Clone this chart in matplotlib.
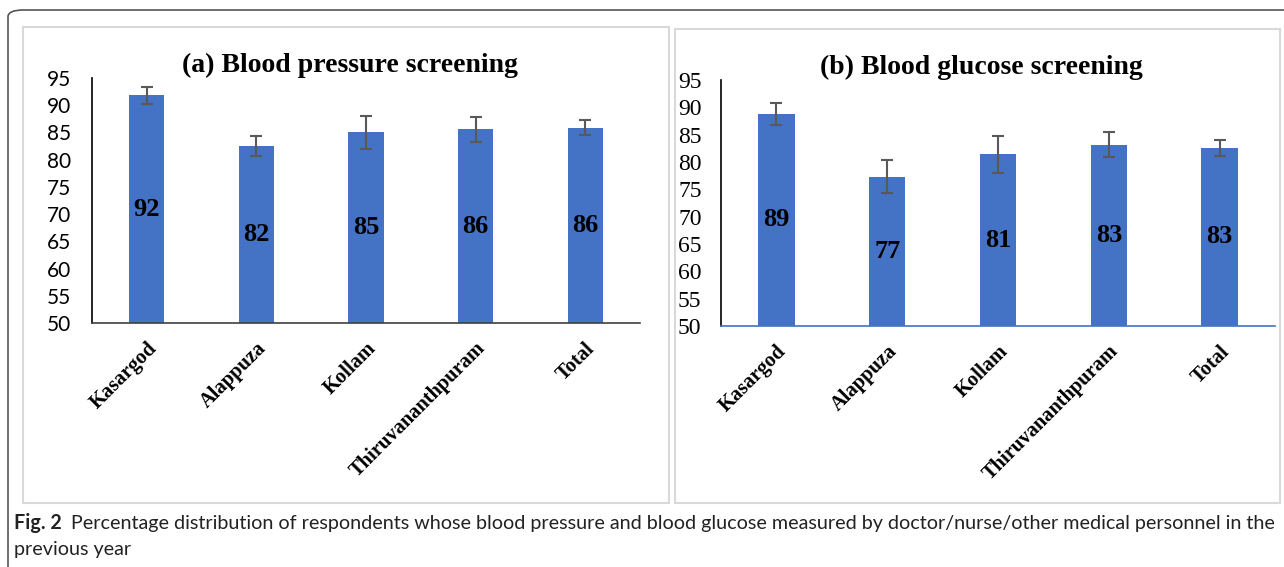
import matplotlib.pyplot as plt
from matplotlib.patches import Rectangle, FancyBboxPatch

districts = ['Kasargod', 'Alappuza', 'Kollam', 'Thiruvananthpuram', 'Total']
bp_values = [91.8, 82.5, 85.0, 85.6, 85.9]
bp_err = [1.6, 1.9, 3.0, 2.3, 1.4]
glu_values = [88.8, 77.3, 81.4, 83.2, 82.6]
glu_err = [2.0, 3.0, 3.4, 2.2, 1.5]
yticks = [50, 55, 60, 65, 70, 75, 80, 85, 90, 95]

bar_color = '#4472C4'
err_color = '#595959'
serif = 'Liberation Serif'

fig = plt.figure(figsize=(12.84, 5.67), dpi=100)
W, H = 1284, 567

# outer frame and panel boxes
fig.patches.append(FancyBboxPatch((8 / W, -0.05), 1.2, (567 - 10) / H + 0.05,
                                  boxstyle='round,pad=0,rounding_size=0.012',
                                  transform=fig.transFigure, fill=False,
                                  edgecolor='#555555', linewidth=1.2))
fig.patches.append(Rectangle((23 / W, 1 - 503 / H), (669 - 23) / W, (503 - 27) / H,
                             transform=fig.transFigure, fill=False,
                             edgecolor='#d9d9d9', linewidth=1.5))
fig.patches.append(Rectangle((675 / W, 1 - 503 / H), (1280 - 675) / W, (503 - 29) / H,
                             transform=fig.transFigure, fill=False,
                             edgecolor='#d9d9d9', linewidth=1.5))


def panel(rect, values, errs, title, tick_font, tick_size, bottom_color, width):
    ax = fig.add_axes(rect)
    x = range(len(values))
    ax.bar(x, [v - 50 for v in values], bottom=50, width=width, color=bar_color,
           yerr=errs, ecolor=err_color, capsize=4.5,
           error_kw={'elinewidth': 1.5, 'capthick': 1.5}, zorder=2)
    for i, v in enumerate(values):
        ax.text(i, (50 + v) / 2, '{:.0f}'.format(v), ha='center', va='center',
                fontsize=19, fontweight='bold', family=serif)
    ax.set_xlim(-0.5, 4.5)
    ax.set_ylim(50, 95)
    ax.set_yticks(yticks)
    ax.set_yticklabels([str(t) for t in yticks], family=tick_font, fontsize=tick_size)
    ax.set_xticks(list(x))
    ax.set_xticklabels(districts, rotation=45, ha='right', rotation_mode='anchor',
                       family=serif, fontweight='bold', fontsize=14.8)
    ax.tick_params(axis='x', length=0, pad=11)
    ax.tick_params(axis='y', length=0)
    for s in ['top', 'right']:
        ax.spines[s].set_visible(False)
    ax.spines['left'].set_color('black')
    ax.spines['left'].set_linewidth(1.2)
    ax.spines['bottom'].set_color(bottom_color)
    ax.spines['bottom'].set_linewidth(1.2)
    ax.set_title(title, family=serif, fontweight='bold', fontsize=20, pad=0,
                 x=0.47)
    return ax


ax1 = panel([92 / W, 1 - 323 / H, 548 / W, 245 / H], bp_values, bp_err,
            '(a) Blood pressure screening', 'Lato', 15, '#404040', 0.32)
ax1.tick_params(axis='y', pad=15)
ax2 = panel([721 / W, 1 - 326 / H, 554 / W, 246 / H], glu_values, glu_err,
            '(b) Blood glucose screening', serif, 17, bar_color, 0.33)
ax2.tick_params(axis='y', pad=14)

# caption
cap_size = 14.2
lab = fig.text(14 / W, 1 - 523 / H, 'Fig. 2', fontsize=cap_size, va='center',
               family='Lato', fontweight='bold', color='#222222')
fig.canvas.draw()
bb = lab.get_window_extent()
fig.text((bb.x1 + 9) / W, 1 - 523 / H,
         'Percentage distribution of respondents whose blood pressure and blood glucose measured by doctor/nurse/other medical personnel in the',
         fontsize=cap_size, va='center', family='Lato', color='#222222')
fig.text(14 / W, 1 - 549 / H, 'previous year', fontsize=cap_size, va='center',
         family='Lato', color='#222222')

fig.savefig('out.png', dpi=100)
